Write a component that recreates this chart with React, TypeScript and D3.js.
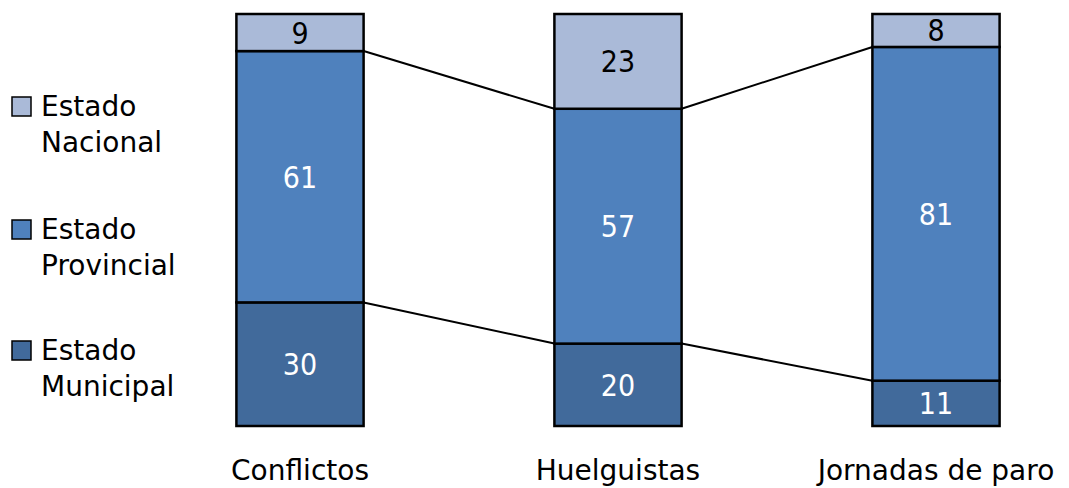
import React from "react";
import * as d3 from "d3";

const categories = ["Conflictos", "Huelguistas", "Jornadas de paro"];
const seriesNames = ["Estado Municipal", "Estado Provincial", "Estado Nacional"];
const municipal = [30, 20, 11];
const provincial = [61, 57, 81];
const nacional = [9, 23, 8];
const legendItems = [
  { key: "Estado Nacional", lines: ["Estado", "Nacional"] },
  { key: "Estado Provincial", lines: ["Estado", "Provincial"] },
  { key: "Estado Municipal", lines: ["Estado", "Municipal"] },
];

const colors: Record<string, string> = {
  "Estado Municipal": "#416A9B",
  "Estado Provincial": "#4F81BD",
  "Estado Nacional": "#AABAD8",
};
const labelColors: Record<string, string> = {
  "Estado Municipal": "#FFFFFF",
  "Estado Provincial": "#FFFFFF",
  "Estado Nacional": "#000000",
};

const W = 1069;
const H = 488;
const FONT = "'DejaVu Sans', Verdana, sans-serif";

export default function App() {
  const rows = categories.map((c, i) => ({
    cat: c,
    "Estado Municipal": municipal[i],
    "Estado Provincial": provincial[i],
    "Estado Nacional": nacional[i],
  }));
  const stacked = d3.stack<any>().keys(seriesNames)(rows);

  const x = d3
    .scaleBand<string>()
    .domain(categories)
    .range([141, 1095])
    .paddingInner(0.6)
    .paddingOuter(0.3);
  const y = d3.scaleLinear().domain([0, 100]).range([426, 14]);
  const bw = x.bandwidth();

  const connectors: { x1: number; y1: number; x2: number; y2: number }[] = [];
  stacked.slice(0, 2).forEach((layer) => {
    for (let i = 0; i < categories.length - 1; i++) {
      connectors.push({
        x1: (x(categories[i]) as number) + bw,
        y1: y(layer[i][1]),
        x2: x(categories[i + 1]) as number,
        y2: y(layer[i + 1][1]),
      });
    }
  });

  const legendTop = [116, 239, 360];

  return (
    <div style={{ position: "absolute", left: 0, top: 0 }}>
      <svg width={W} height={H} style={{ display: "block", background: "#fff" }}>
        {connectors.map((c, i) => (
          <line key={i} x1={c.x1} y1={c.y1} x2={c.x2} y2={c.y2} stroke="#000" strokeWidth={2} />
        ))}
        {stacked.map((layer) => (
          <g key={layer.key}>
            {layer.map((d, i) => {
              const x0 = x(categories[i]) as number;
              const yTop = y(d[1]);
              const yBot = y(d[0]);
              const cx = x0 + bw / 2;
              const cy = (yTop + yBot) / 2 + 11;
              return (
                <g key={i}>
                  <rect
                    x={x0}
                    y={yTop}
                    width={bw}
                    height={yBot - yTop}
                    fill={colors[layer.key]}
                    stroke="#000"
                    strokeWidth={2.5}
                  />
                  <text
                    transform={`translate(${cx},${cy}) scale(1,1.1)`}
                    textAnchor="middle"
                    fontFamily={FONT}
                    fontSize={27}
                    fill={labelColors[layer.key]}
                  >
                    {d[1] - d[0]}
                  </text>
                </g>
              );
            })}
          </g>
        ))}
        {categories.map((c) => (
          <text
            key={c}
            x={(x(c) as number) + bw / 2}
            y={480}
            textAnchor="middle"
            fontFamily={FONT}
            fontSize={28}
            fill="#000"
          >
            {c}
          </text>
        ))}
        {legendItems.map((item, i) => (
          <g key={item.key}>
            <rect
              x={12}
              y={legendTop[i] - 19}
              width={19}
              height={19}
              fill={colors[item.key]}
              stroke="#000"
              strokeWidth={1.5}
            />
            {item.lines.map((ln, j) => (
              <text
                key={j}
                x={41}
                y={legendTop[i] + j * 36}
                fontFamily={FONT}
                fontSize={28}
                fill="#000"
              >
                {ln}
              </text>
            ))}
          </g>
        ))}
      </svg>
    </div>
  );
}
